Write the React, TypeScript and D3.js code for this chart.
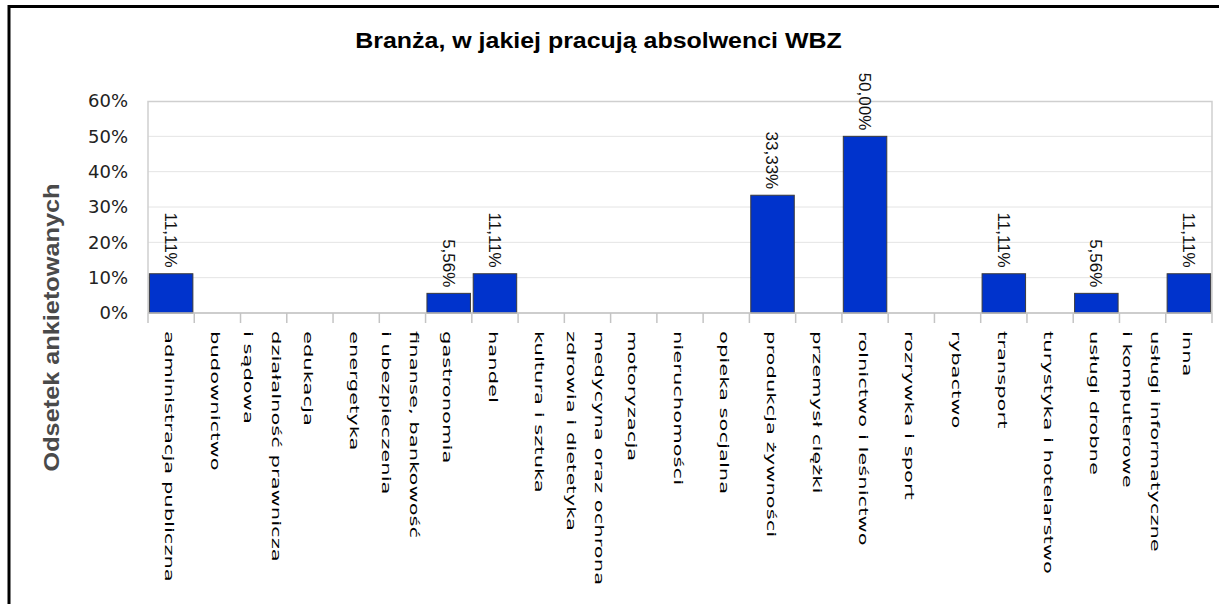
import React from 'react'
import * as d3 from 'd3'

// categories (multi-line labels split on \n)
const categories = [
  'administracja publiczna',
  'budownictwo',
  'działalność prawnicza\ni sądowa',
  'edukacja',
  'energetyka',
  'finanse, bankowość\ni ubezpieczenia',
  'gastronomia',
  'handel',
  'kultura i sztuka',
  'medycyna oraz ochrona\nzdrowia i dietetyka',
  'motoryzacja',
  'nieruchomości',
  'opieka socjalna',
  'produkcja żywności',
  'przemysł ciężki',
  'rolnictwo i leśnictwo',
  'rozrywka i sport',
  'rybactwo',
  'transport',
  'turystyka i hotelarstwo',
  'usługi drobne',
  'usługi informatyczne\ni komputerowe',
  'inna',
]

// percent of respondents
const values = [
  11.11, 0, 0, 0, 0, 0, 5.56, 11.11, 0, 0, 0, 0,
  0, 33.33, 0, 50.0, 0, 0, 11.11, 0, 5.56, 0, 11.11,
]

const yTicks = [0, 10, 20, 30, 40, 50, 60]

const title = 'Branża, w jakiej pracują absolwenci WBZ'
const yTitle = 'Odsetek ankietowanych'

const W = 1219
const H = 604
const plot = { left: 148, right: 1212, top: 101, bottom: 313 }

export default function App() {
  const x = d3.scaleBand<string>()
    .domain(categories)
    .range([plot.left, plot.right])
    .paddingInner(0.06)
    .paddingOuter(0.03)
  const y = d3.scaleLinear().domain([0, 60]).range([plot.bottom, plot.top])
  const step = x.step()
  const bw = x.bandwidth()
  const fmt = d3.format('.2f')
  const tickXs = d3.range(categories.length + 1).map(i => plot.left + i * step)

  return (
    <svg
      width={W}
      height={H}
      style={{ position: 'absolute', left: 0, top: 0, background: '#fff' }}
    >
      {/* outer frame */}
      <rect x={9} y={6.5} width={W + 20} height={H + 20} fill="#fff" stroke="#000" strokeWidth={3} />

      <text
        transform={`translate(598.5,48) scale(1.085,1)`}
        textAnchor="middle"
        fontFamily="Liberation Sans, Arial, sans-serif"
        fontWeight="bold"
        fontSize={23}
        fill="#000"
      >
        {title}
      </text>

      {/* grid */}
      {yTicks.filter(t => t > 0 && t < 60).map(t => (
        <line key={t} x1={plot.left} x2={plot.right} y1={y(t)} y2={y(t)} stroke="#e4e4e4" strokeWidth={1} />
      ))}
      <path
        d={`M${plot.left},${plot.bottom}V${plot.top + 0.5}H${plot.right}V${plot.bottom}`}
        fill="none"
        stroke="#cfcfcf"
        strokeWidth={1.5}
      />

      {/* y tick labels */}
      {yTicks.map(t => (
        <text
          key={t}
          x={128}
          y={y(t)}
          dy="0.36em"
          textAnchor="end"
          fontFamily="DejaVu Sans, sans-serif"
          fontSize={18}
          fill="#222"
        >
          {t}%
        </text>
      ))}

      <text
        transform={`translate(59,327.5) rotate(-90) scale(1.15,1)`}
        textAnchor="middle"
        fontFamily="Liberation Sans, Arial, sans-serif"
        fontWeight="bold"
        fontSize={22}
        fill="#4a4a4a"
      >
        {yTitle}
      </text>

      {/* bars */}
      {categories.map((c, i) => values[i] > 0 && (
        <rect
          key={c}
          x={x(c)}
          y={y(values[i])}
          width={bw}
          height={y(0) - y(values[i])}
          fill="#0033cc"
          stroke="#3a3a3a"
          strokeWidth={1}
        />
      ))}

      {/* x axis line and ticks */}
      <line x1={plot.left} x2={plot.right} y1={plot.bottom} y2={plot.bottom} stroke="#bdbdbd" strokeWidth={1.5} />
      {tickXs.map((tx, i) => (
        <line key={i} x1={tx} x2={tx} y1={plot.bottom} y2={plot.bottom + 10} stroke="#c4c4c4" strokeWidth={1.5} />
      ))}

      {/* value labels */}
      {categories.map((c, i) => values[i] > 0 && (
        <text
          key={c}
          transform={`translate(${(x(c) ?? 0) + bw / 2},${y(values[i]) - 6}) rotate(90)`}
          textAnchor="end"
          dy="0.36em"
          fontFamily="Liberation Sans, Arial, sans-serif"
          fontSize={17}
          fill="#111"
        >
          {fmt(values[i]).replace('.', ',')}%
        </text>
      ))}

      {/* category labels */}
      {categories.map(c => {
        const lines = c.split('\n')
        const cx = (x(c) ?? 0) + bw / 2
        return lines.map((ln, j) => {
          const bx = cx - 6 + (lines.length - 1) * 14 - j * 28
          return (
            <text
              key={c + j}
              transform={`translate(${bx},331) rotate(90) scale(1.76,1)`}
              textAnchor="start"
              fontFamily="DejaVu Sans, sans-serif"
              fontSize={12}
              fill="#000"
            >
              {ln}
            </text>
          )
        })
      })}
    </svg>
  )
}
